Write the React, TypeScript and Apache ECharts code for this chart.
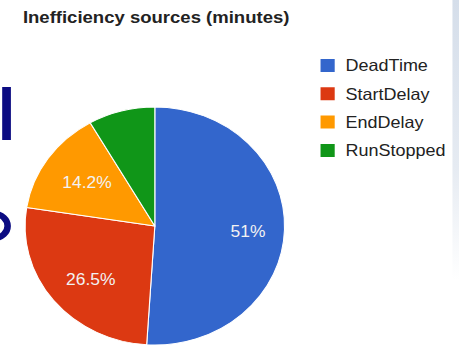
import React, { useEffect, useRef } from "react";
import * as echarts from "echarts";

// Inefficiency breakdown, in percent of total minutes
const sourceNames = ["DeadTime", "StartDelay", "EndDelay", "RunStopped"];
const sourceShares = [51, 26.5, 14.2, 8.3];
const sourceColors = ["#3366cc", "#dc3912", "#ff9900", "#109618"];
// Slices too thin to carry an inside label
const hiddenLabels = ["RunStopped"];

const TITLE = "Inefficiency sources (minutes)";
const FONT = "'Liberation Sans', Arial, Helvetica, sans-serif";

// The chart is laid out on a narrower canvas and widened to the page width.
const PAGE_W = 459;
const PAGE_H = 347;
const STRETCH = 1.09;
const CHART_W = Math.round(PAGE_W / STRETCH);

export default function App() {
  const ref = useRef<HTMLDivElement>(null);

  useEffect(() => {
    if (!ref.current) return;
    const chart = echarts.init(ref.current, null, { renderer: "svg" });

    const sliceData = sourceNames.map((name, i) => ({
      name,
      value: sourceShares[i],
      itemStyle: { color: sourceColors[i] },
    }));

    const labelData = sourceNames.map((name, i) => ({
      name,
      value: sourceShares[i],
      label: { show: !hiddenLabels.includes(name) },
    }));

    chart.setOption({
      animation: false,
      backgroundColor: "#ffffff",
      title: {
        text: TITLE,
        left: 21,
        top: 9,
        padding: 0,
        textStyle: {
          fontFamily: FONT,
          fontSize: 17,
          fontWeight: "bold",
          color: "#222222",
        },
      },
      legend: {
        orient: "vertical",
        left: 292,
        top: 57,
        padding: 0,
        itemWidth: 15,
        itemHeight: 15,
        itemGap: 11.3,
        icon: "rect",
        data: sourceNames,
        selectedMode: false,
        textStyle: {
          fontFamily: FONT,
          fontSize: 16.5,
          color: "#222222",
          padding: [0, 0, 0, 4],
        },
      },
      series: [
        {
          type: "pie",
          center: [142, 226],
          radius: [0, 119],
          startAngle: 90,
          clockwise: true,
          silent: true,
          label: { show: false },
          labelLine: { show: false },
          itemStyle: { borderColor: "#ffffff", borderWidth: 1 },
          data: sliceData,
        },
        {
          // transparent ring that only carries the percentage labels
          type: "pie",
          center: [146.5, 229],
          radius: [37, 119],
          startAngle: 90,
          clockwise: true,
          silent: true,
          itemStyle: { color: "rgba(0,0,0,0)", borderWidth: 0 },
          label: {
            show: true,
            position: "inside",
            formatter: "{d}%",
            fontFamily: FONT,
            fontSize: 16,
            color: "#f2f2f2",
          },
          labelLine: { show: false },
          data: labelData,
        },
      ],
      graphic: [
        // slide fragments around the chart
        {
          type: "rect",
          shape: { x: 2, y: 87, width: 8, height: 53 },
          style: { fill: "#0c0c82" },
          silent: true,
        },
        {
          type: "arc",
          shape: { cx: -5, cy: 226, r: 12, startAngle: -Math.PI / 2, endAngle: Math.PI / 2 },
          style: { stroke: "#0c0c82", lineWidth: 6, fill: "none" },
          silent: true,
        },
        {
          type: "rect",
          shape: { x: CHART_W - 6, y: 0, width: 6, height: 280 },
          style: {
            fill: new echarts.graphic.LinearGradient(0, 0, 0, 1, [
              { offset: 0, color: "#d5deea" },
              { offset: 0.6, color: "#e6ebf2" },
              { offset: 1, color: "#ffffff" },
            ]),
          },
          silent: true,
        },
      ],
    });

    return () => chart.dispose();
  }, []);

  return (
    <div
      style={{
        position: "absolute",
        left: 0,
        top: 0,
        width: PAGE_W,
        height: PAGE_H,
        overflow: "hidden",
        background: "#ffffff",
      }}
    >
      <div
        ref={ref}
        style={{
          width: CHART_W,
          height: PAGE_H,
          transform: `scaleX(${PAGE_W / CHART_W})`,
          transformOrigin: "0 0",
        }}
      />
    </div>
  );
}
